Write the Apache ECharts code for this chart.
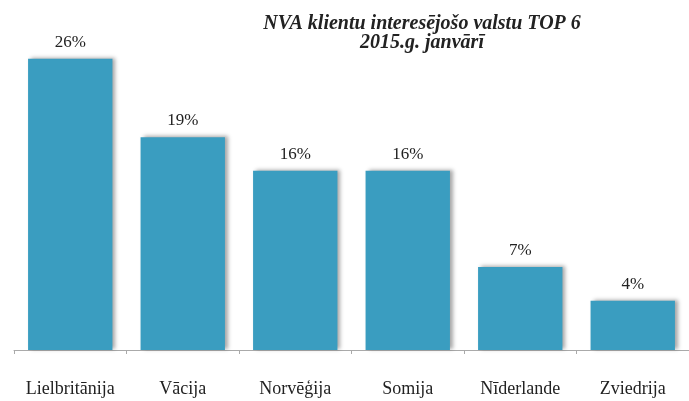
<!DOCTYPE html>
<html>
<head>
<meta charset="utf-8">
<title></title>
<script src="https://cdn.jsdelivr.net/npm/echarts@6/dist/echarts.min.js"></script>
</head>
<body style="margin:0;">
<div id="main" style="width:689px;height:401px;"></div>
<script>
var countries = ['Lielbritānija', 'Vācija', 'Norvēģija', 'Somija', 'Nīderlande', 'Zviedrija'];
var shares = [26, 19, 16, 16, 7.4, 4.4];
var shareLabels = ['26%', '19%', '16%', '16%', '7%', '4%'];
var titleText = 'NVA klientu interesējošo valstu TOP 6\n2015.g. janvārī';

var myChart = echarts.init(document.getElementById('main'));

var option = {
	backgroundColor: '#ffffff',
	// title drawn as graphic so both lines are centred on the same x
	graphic: [{
		type: 'text',
		x: 422,
		y: 14,
		style: {
			text: titleText,
			textAlign: 'center',
			fontFamily: 'Liberation Serif',
			fontStyle: 'italic',
			fontWeight: 'bold',
			fontSize: 20,
			lineHeight: 19,
			fill: '#222'
		}
	}],
	grid: {
		left: 14,
		width: 682,
		top: 14,
		bottom: 51
	},
	xAxis: {
		type: 'category',
		data: countries,
		axisLine: { lineStyle: { color: '#aaa' } },
		axisTick: { show: true, interval: 0, length: 4, lineStyle: { color: '#aaa' } },
		axisLabel: {
			interval: 0,
			margin: 30,
			fontFamily: 'Liberation Serif',
			fontSize: 18,
			color: '#222'
		}
	},
	yAxis: {
		type: 'value',
		min: 0,
		max: 30,
		show: false
	},
	series: [{
		type: 'bar',
		data: shares,
		barCategoryGap: '25%',
		itemStyle: {
			color: '#3a9dc0',
			shadowColor: 'rgba(0,0,0,0.35)',
			shadowBlur: 4,
			shadowOffsetX: 3,
			shadowOffsetY: -1
		},
		label: {
			show: true,
			position: 'top',
			distance: 8,
			fontFamily: 'Liberation Serif',
			fontSize: 17,
			color: '#222',
			formatter: function (p) { return shareLabels[p.dataIndex]; }
		}
	}]
};

myChart.setOption(option);
</script>
</body>
</html>
